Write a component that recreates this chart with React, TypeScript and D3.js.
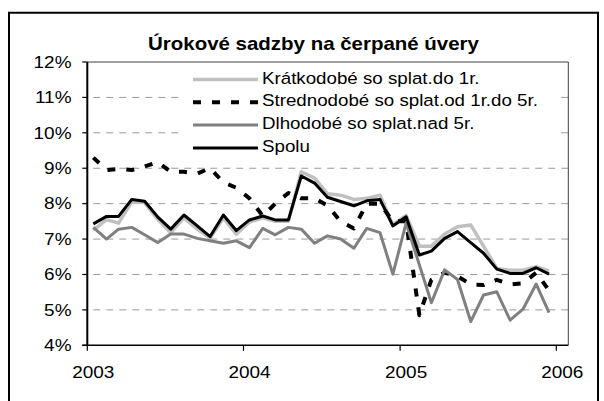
import React from "react";
import * as d3 from "d3";

const months: Date[] = d3.timeMonths(new Date(2003, 0, 1), new Date(2006, 0, 1)).map((d) => new Date(d.getFullYear(), d.getMonth(), 15));

const kratkodobe = [
  7.25, 7.55, 7.45, 8.05, 8.03, 7.55, 7.18, 7.6, 7.28, 7.02, 7.6, 7.14,
  7.48, 7.6, 7.5, 7.5, 8.9, 8.72, 8.28, 8.24, 8.12, 8.15, 8.24, 7.4,
  7.67, 6.8, 6.8, 7.14, 7.35, 7.4, 6.8, 6.17, 6.12, 6.12, 6.22, 6.1,
];
const strednodobe = [
  9.3, 8.95, 8.98, 8.95, 9.05, 9.17, 8.9, 8.9, 8.85, 9.0, 8.6, 8.45,
  8.15, 7.65, 8.0, 8.3, 8.15, 8.15, 7.95, 7.5, 7.3, 8.0, 8.0, 7.5,
  7.5, 4.85, 5.85, 6.05, 5.95, 5.72, 5.7, 5.85, 5.72, 5.75, 6.05, 5.55,
];
const dlhodobe = [
  7.33, 7.0, 7.28, 7.33, 7.12, 6.9, 7.14, 7.14, 7.02, 6.95, 6.88, 6.95,
  6.76, 7.3, 7.12, 7.33, 7.28, 6.88, 7.09, 7.0, 6.74, 7.3, 7.18, 6.01,
  7.45, 6.27, 5.2, 6.13, 5.86, 4.67, 5.42, 5.51, 4.71, 5.02, 5.73, 4.92,
];
const spolu = [
  7.43, 7.64, 7.64, 8.12, 8.07, 7.62, 7.28, 7.68, 7.37, 7.07, 7.68, 7.24,
  7.54, 7.65, 7.54, 7.54, 8.78, 8.58, 8.18, 8.06, 7.94, 8.08, 8.12, 7.37,
  7.63, 6.55, 6.66, 7.02, 7.21, 6.9, 6.6, 6.15, 6.03, 6.03, 6.19, 6.01,
];

const seriesNames = [
  "Krátkodobé so splat.do 1r.",
  "Strednodobé so splat.od 1r.do 5r.",
  "Dlhodobé so splat.nad 5r.",
  "Spolu",
];
const yTicks = [4, 5, 6, 7, 8, 9, 10, 11, 12];
const xTickYears = [2003, 2004, 2005, 2006];
const title = "Úrokové sadzby na čerpané úvery";

const FONT = "'Liberation Sans', Arial, sans-serif";

export default function App() {
  const L = 87.3, R = 568.3, T = 62, B = 345.3;
  const x = d3.scaleTime().domain([new Date(2003, 0, 1), new Date(2006, 0, 29)]).range([L, R]);
  const y = d3.scaleLinear().domain([4, 12]).range([B, T]);

  const styles = [
    { stroke: "#c0c0c0", width: 3.5, dash: undefined as string | undefined },
    { stroke: "#000000", width: 4, dash: "8 11" },
    { stroke: "#808080", width: 3, dash: undefined },
    { stroke: "#000000", width: 3, dash: undefined },
  ];
  const data = [kratkodobe, strednodobe, dlhodobe, spolu];

  const line = (vals: number[]) =>
    d3.line<number>().x((_, i) => x(months[i])).y((v) => y(v))(vals) || "";

  const sx = 1.15;

  return (
    <svg width={604} height={401} style={{ position: "absolute", left: 0, top: 0, background: "#fff" }} fontFamily={FONT}>
      <rect x={0} y={0} width={604} height={401} fill="#fff" />
      {/* outer frame */}
      <path d="M9,401 L9,12.7 L598,12.7 L598,401" fill="none" stroke="#000" strokeWidth={2} />
      {/* title */}
      <text transform={`translate(313.5,50) scale(1.1,1)`} textAnchor="middle" fontSize={18.6} fontWeight="bold">
        {title}
      </text>
      {/* gridlines */}
      {yTicks.filter((t) => t > 4 && t < 12).map((t) => (
        <line key={t} x1={L} x2={R} y1={y(t)} y2={y(t)} stroke="#9a9a9a" strokeWidth={1} strokeDasharray="7 6" strokeDashoffset={7} />
      ))}
      {/* plot frame */}
      <path d={`M${L},${T} L${R},${T} L${R},${B}`} fill="none" stroke="#404040" strokeWidth={1} />
      {/* legend box */}
      <rect x={180} y={64} width={380} height={96} fill="#fff" />
      {/* series */}
      {data.map((vals, i) => (
        <path key={i} d={line(vals)} fill="none" stroke={styles[i].stroke} strokeWidth={styles[i].width}
          strokeDasharray={styles[i].dash} strokeLinejoin="round" />
      ))}
      {/* legend */}
      {seriesNames.map((name, i) => {
        const by = 83.5 + i * 22.8;
        return (
          <g key={name}>
            <line x1={193} x2={258} y1={by - 4} y2={by - 4} stroke={styles[i].stroke} strokeWidth={styles[i].width}
              strokeDasharray={styles[i].dash} />
            <text transform={`translate(262,${by}) scale(${sx},1)`} fontSize={16.3}>{name}</text>
          </g>
        );
      })}
      {/* axes */}
      <line x1={L} x2={L} y1={T} y2={B} stroke="#000" strokeWidth={2} />
      <line x1={L - 5} x2={R} y1={B} y2={B} stroke="#000" strokeWidth={1.5} />
      {yTicks.map((t) => (
        <g key={t}>
          <line x1={L - 5} x2={L} y1={y(t)} y2={y(t)} stroke="#000" strokeWidth={1.2} />
          <text transform={`translate(71.5,${y(t) + 5.8}) scale(${sx},1)`} textAnchor="end" fontSize={16.5}>{t}%</text>
        </g>
      ))}
      {xTickYears.map((yr) => {
        const px = x(new Date(yr, 0, 1));
        return (
          <g key={yr}>
            <line x1={px} x2={px} y1={B} y2={B + 5.5} stroke="#000" strokeWidth={1.2} />
            <text transform={`translate(${px + 6},378) scale(${sx},1)`} textAnchor="middle" fontSize={16.5}>{yr}</text>
          </g>
        );
      })}
    </svg>
  );
}
